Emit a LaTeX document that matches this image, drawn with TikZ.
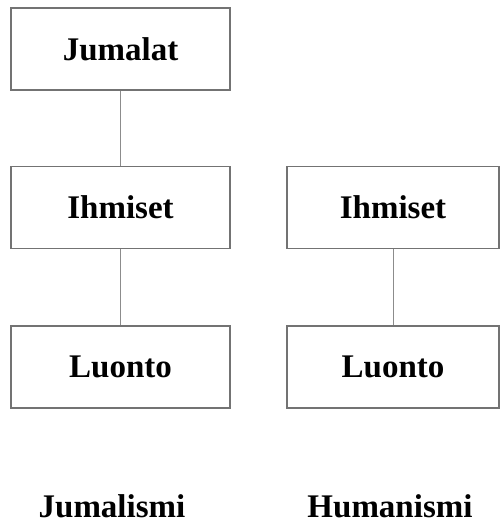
\documentclass[tikz,border=0pt]{standalone}
\usepackage{fontspec}
\setmainfont{Liberation Serif}
\tikzset{
    every node/.style={font=\fontsize{16.5}{20}\selectfont\bfseries}
}
\tikzset{
    box/.style={rectangle, draw=black!55, line width=0.8pt,
    	minimum width=109.5pt, minimum height=41pt, inner sep=0pt}
}
\tikzset{
    every edge/.append style={draw=black!45, line width=0.5pt}
}

\begin{document}
\begin{tikzpicture}[x=0.5pt,y=0.5pt]
  \useasboundingbox (0,0) rectangle (501,525);
  \node (jumalat) [box] at (120.5, 476) {Jumalat};
  \node (ihmisetJ) [box] at (120.5, 317.5) {Ihmiset};
  \node (luontoJ) [box] at (120.5, 158) {Luonto};
  \node (ihmisetH) [box, minimum width=106pt] at (393, 317.5) {Ihmiset};
  \node (luontoH) [box, minimum width=106pt] at (393, 158) {Luonto};
  \node (jumalismi) [anchor=base, inner sep=0pt] at (112, 8) {Jumalismi};
  \node (humanismi) [anchor=base, inner sep=0pt] at (390, 8) {Humanismi};

  \draw (jumalat) edge (ihmisetJ); \draw (ihmisetJ) edge (luontoJ);
  \draw (ihmisetH) edge (luontoH);
\end{tikzpicture}
\end{document}
